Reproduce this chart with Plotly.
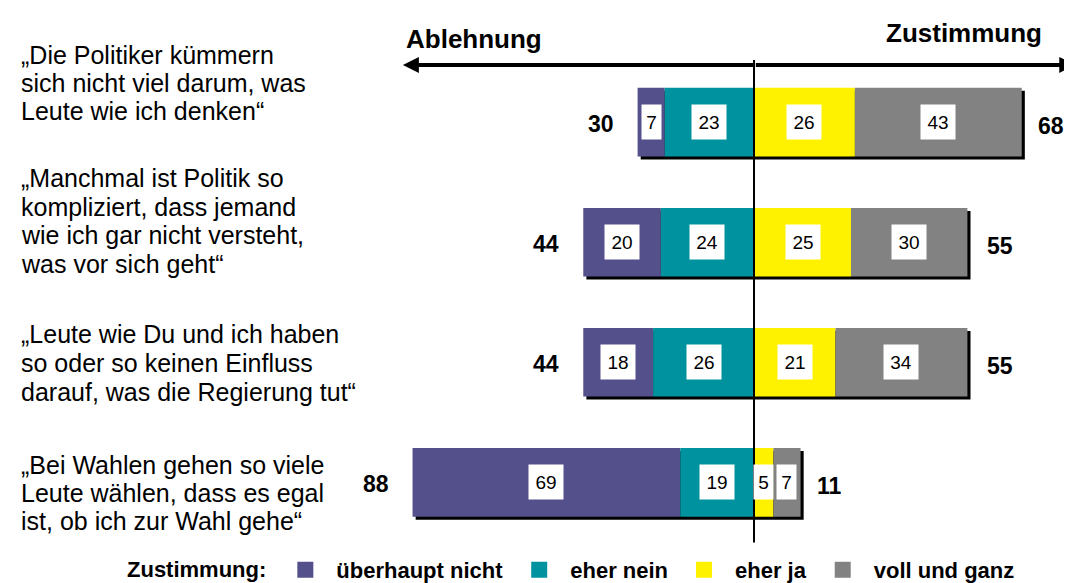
import plotly.graph_objects as go

# ---------------- data ----------------
statements = [
    ["„Die Politiker kümmern", "sich nicht viel darum, was", "Leute wie ich denken“"],
    ["„Manchmal ist Politik so", "kompliziert, dass jemand", "wie ich gar nicht versteht,", "was vor sich geht“"],
    ["„Leute wie Du und ich haben", "so oder so keinen Einfluss", "darauf, was die Regierung tut“"],
    ["„Bei Wahlen gehen so viele", "Leute wählen, dass es egal", "ist, ob ich zur Wahl gehe“"],
]
ueberhaupt_nicht = [7, 20, 18, 69]
eher_nein = [23, 24, 26, 19]
eher_ja = [26, 25, 21, 5]
voll_und_ganz = [43, 30, 34, 7]
total_ablehnung = [30, 44, 44, 88]
total_zustimmung = [68, 55, 55, 11]
series_names = ["überhaupt nicht", "eher nein", "eher ja", "voll und ganz"]
legend_title = "Zustimmung:"
left_title = "Ablehnung"
right_title = "Zustimmung"

# ---------------- style ----------------
FONT = "Liberation Sans, Arial, sans-serif"
colors = ["#54508C", "#00939F", "#FFF200", "#828282"]
ypos = [3, 2, 1, 0]
BAR_W = 0.571
W, H = 1072, 583
ML, MR, MT, MB = 390, 0, 50, 43
XR = [-91.75, 84.02]
YR = [-0.5215, 3.534]
plot_h = H - MT - MB


def py(px):  # pixel y -> paper y
    return (H - MB - px) / plot_h


def pxx(px):  # pixel x -> paper x
    return (px - ML) / (W - ML - MR)


fig = go.Figure()

# shadow behind each stacked bar (right/bottom)
n = len(ypos)
left_sum = [ueberhaupt_nicht[i] + eher_nein[i] for i in range(n)]
full_len = [left_sum[i] + eher_ja[i] + voll_und_ganz[i] for i in range(n)]
SH_X = 0.8
SH_Y = 0.025
fig.add_trace(go.Bar(
    orientation="h", y=ypos, x=full_len, base=[-v + SH_X for v in left_sum],
    width=BAR_W, offset=-BAR_W / 2 - SH_Y, marker=dict(color="black", line=dict(width=0)),
    showlegend=False, hoverinfo="skip"))

bases = [
    [-left_sum[i] for i in range(n)],
    [-eher_nein[i] for i in range(n)],
    [0] * n,
    [eher_ja[i] for i in range(n)],
]
values = [ueberhaupt_nicht, eher_nein, eher_ja, voll_und_ganz]

for name, col, vals, b in zip(series_names, colors, values, bases):
    fig.add_trace(go.Bar(
        orientation="h", y=ypos, x=vals, base=b, name=name, width=BAR_W,
        legendgroup=name, showlegend=False,
        marker=dict(color=col, line=dict(width=0)), hoverinfo="skip"))
    # legend entry with a larger square swatch
    fig.add_trace(go.Scatter(
        x=[None], y=[None], mode="markers", name=name, legendgroup=name,
        marker=dict(symbol="square", size=17, color=col, line=dict(width=0)),
        hoverinfo="skip"))

annotations = []
# value boxes
for vals, b in zip(values, bases):
    for i in range(n):
        t = str(vals[i])
        annotations.append(dict(
            x=b[i] + vals[i] / 2, y=ypos[i], xref="x", yref="y", text=t, showarrow=False,
            bgcolor="white", width=19 if len(t) == 1 else 34, height=34, borderpad=0,
            font=dict(family=FONT, size=19, color="black")))

# totals
for i in range(n):
    annotations.append(dict(
        x=-total_ablehnung[i], y=ypos[i], xref="x", yref="y", text=str(total_ablehnung[i]),
        showarrow=False, xanchor="right", xshift=-22, yshift=-2,
        font=dict(family=FONT, size=23, color="black", weight="bold")))
    annotations.append(dict(
        x=total_zustimmung[i], y=ypos[i], xref="x", yref="y", text=str(total_zustimmung[i]),
        showarrow=False, xanchor="left", xshift=18, yshift=-4,
        font=dict(family=FONT, size=23, color="black", weight="bold")))

# statement texts (one annotation per line)
line_centers = [[47, 75, 103], [171, 200, 228, 257], [328, 357, 386], [460, 488, 516]]
for lines, cents in zip(statements, line_centers):
    for ln, c in zip(lines, cents):
        annotations.append(dict(
            x=pxx(11), y=py(c), xref="paper", yref="paper", text=ln, showarrow=False,
            xanchor="left", yanchor="middle",
            font=dict(family=FONT, size=25, color="black")))

# titles
annotations.append(dict(x=pxx(396), y=py(31), xref="paper", yref="paper", text=left_title,
                        showarrow=False, xanchor="left", yanchor="middle",
                        font=dict(family=FONT, size=26, color="black", weight="bold")))
annotations.append(dict(x=pxx(1036), y=py(25), xref="paper", yref="paper", text=right_title,
                        showarrow=False, xanchor="right", yanchor="middle",
                        font=dict(family=FONT, size=26, color="black", weight="bold")))

# double-headed axis arrow
ARROW_Y = py(57)
annotations.append(dict(x=-90.5, y=ARROW_Y, xref="x", yref="paper", text="", showarrow=True,
                        ax=352, ay=0, axref="pixel", ayref="pixel", arrowhead=2, arrowsize=0.8,
                        arrowwidth=4, arrowcolor="black"))
annotations.append(dict(x=82.8, y=ARROW_Y, xref="x", yref="paper", text="", showarrow=True,
                        ax=-321, ay=0, axref="pixel", ayref="pixel", arrowhead=2, arrowsize=0.8,
                        arrowwidth=4, arrowcolor="black"))

shapes = [dict(type="line", xref="x", yref="paper", x0=0, x1=0, y0=0.005, y1=py(52),
               line=dict(color="black", width=2), layer="above")]

fig.update_layout(
    width=W, height=H,
    margin=dict(l=ML, r=MR, t=MT, b=MB, pad=0),
    barmode="overlay",
    paper_bgcolor="white", plot_bgcolor="white",
    xaxis=dict(range=XR, visible=False, fixedrange=True),
    yaxis=dict(range=YR, visible=False, fixedrange=True),
    showlegend=True,
    legend=dict(orientation="h", x=pxx(117), xanchor="left", y=py(565), yanchor="middle",
                title=dict(text=legend_title, font=dict(family=FONT, size=22, weight="bold")),
                font=dict(family=FONT, size=22, color="black", weight="bold"),
                itemwidth=52, itemsizing="trace",
                bgcolor="rgba(0,0,0,0)", traceorder="normal"),
    annotations=annotations,
    shapes=shapes,
    font=dict(family=FONT, color="black"),
)

fig.write_html("out.html")
